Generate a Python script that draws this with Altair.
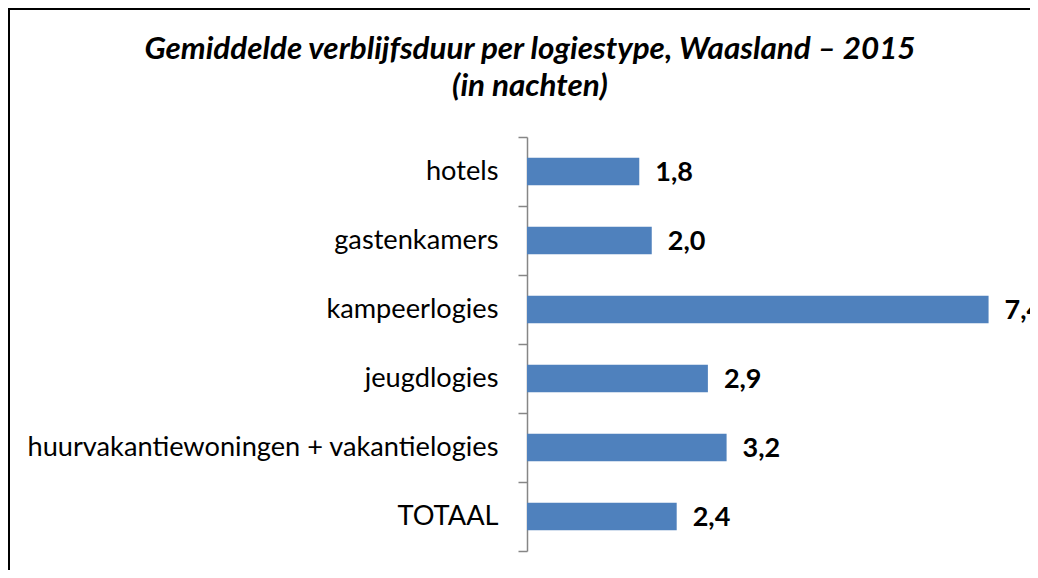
import altair as alt
import pandas as pd

categories = ["hotels", "gastenkamers", "kampeerlogies", "jeugdlogies",
              "huurvakantiewoningen + vakantielogies", "TOTAAL"]
values = [1.8, 2.0, 7.4, 2.9, 3.2, 2.4]
labels = ["1,8", "2,0", "7,4", "2,9", "3,2", "2,4"]

title_line1 = "Gemiddelde verblijfsduur per logiestype, Waasland – 2015"
title_line2 = "(in nachten)"

df = pd.DataFrame({"cat": categories, "val": values, "lab": labels})

FONT = "Lato"
PAD_L, PAD_T, PAD_R, PAD_B = 519, 129, 4, 19
W, H = 499, 414

y_enc = alt.Y("cat:N", sort=categories,
              scale=alt.Scale(paddingInner=0, paddingOuter=0),
              axis=alt.Axis(title=None, tickBand="extent", tickSize=9,
                            tickColor="#868686", domainColor="#868686",
                            domainWidth=1.5, tickWidth=1.5,
                            labelFont=FONT, labelFontSize=27.2, labelColor="#000000",
                            labelPadding=20, labelLimit=600))
x_enc = alt.X("val:Q", scale=alt.Scale(domain=[0, 8], nice=False), axis=None)

bars = alt.Chart(df).mark_bar(size=27.6, color="#4F81BD").encode(x=x_enc, y=y_enc)

text = alt.Chart(df).mark_text(align="left", baseline="middle", dx=16, dy=1,
                               font=FONT, fontSize=27, fontWeight="bold",
                               color="#000000").encode(x=x_enc, y=y_enc, text="lab:N")

one = pd.DataFrame({"t1": [title_line1], "t2": [title_line2]})
title1 = alt.Chart(one).mark_text(align="center", baseline="middle", font=FONT,
                                  fontSize=31.4, fontStyle="italic", fontWeight="bold",
                                  color="#000000").encode(
    text="t1:N", x=alt.value(3), y=alt.value(-87))
title2 = alt.Chart(one).mark_text(align="center", baseline="middle", font=FONT,
                                  fontSize=31.4, fontStyle="italic", fontWeight="bold",
                                  color="#000000").encode(
    text="t2:N", x=alt.value(3), y=alt.value(-50))

left_line = alt.Chart(one).mark_rule(color="#000000", strokeWidth=2).encode(
    x=alt.value(-518), y=alt.value(-128), y2=alt.value(440))
top_line = alt.Chart(one).mark_rule(color="#000000", strokeWidth=2).encode(
    y=alt.value(-128), x=alt.value(-519), x2=alt.value(510))

chart = alt.layer(bars, text, title1, title2, left_line, top_line).properties(
    width=W, height=H,
    padding={"left": PAD_L, "top": PAD_T, "right": PAD_R, "bottom": PAD_B},
    autosize=alt.AutoSizeParams(type="none"),
).configure_view(stroke=None)

chart.save("out.html", embed_options={"renderer": "svg", "actions": False})
